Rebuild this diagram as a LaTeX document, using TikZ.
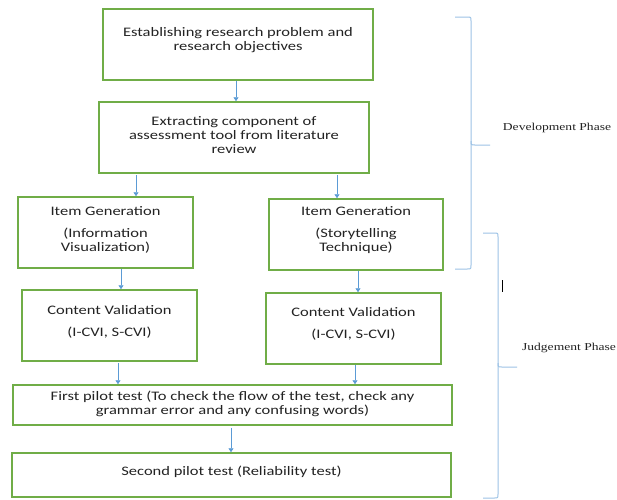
\documentclass[tikz,border=0pt]{standalone}
\usepackage{fontspec}
\usetikzlibrary{arrows.meta}
\newfontfamily\boxfont[FakeStretch=1.27]{Carlito}
\newfontfamily\labfont[FakeStretch=1.28]{Liberation Serif}
\definecolor{boxgreen}{RGB}{112,173,71}
\definecolor{arrblue}{RGB}{91,155,213}
\definecolor{bracecol}{RGB}{157,195,230}
\definecolor{txtcol}{RGB}{35,35,35}
\tikzset{
  box/.style={draw=boxgreen, line width=1.5pt, rectangle, inner sep=0pt},
  txt/.style={font=\boxfont\fontsize{13pt}{14pt}\selectfont, text=txtcol, align=center, inner sep=0pt},
  lab/.style={font=\labfont\fontsize{10.6pt}{12pt}\selectfont, text=txtcol, inner sep=0pt},
  arr/.style={draw=arrblue, line width=0.8pt, -{Triangle[width=5pt,length=4pt]}},
  brace/.style={draw=bracecol, line width=1pt}
}
\begin{document}
\begin{tikzpicture}[x=1pt,y=-1pt]
\useasboundingbox (0,0) rectangle (617,499);
\fill[white] (0,0) rectangle (617,499);
% boxes
\node[box, minimum width=270pt, minimum height=71pt] (b1) at (238,44.5) {};
\node[box, minimum width=270pt, minimum height=71pt] (b2) at (234,137.5) {};
\node[box, minimum width=175pt, minimum height=71pt] (b3) at (105.5,232.5) {};
\node[box, minimum width=174pt, minimum height=71pt] (b4) at (356,234.5) {};
\node[box, minimum width=175pt, minimum height=71pt] (b5) at (109.5,325.5) {};
\node[box, minimum width=175pt, minimum height=71pt] (b6) at (353.5,328.5) {};
\node[box, minimum width=439pt, minimum height=40pt] (b7) at (232.5,405) {};
\node[box, minimum width=439pt, minimum height=44pt] (b8) at (231.5,475) {};
% texts
\node[txt] (t1) at (238,40) {Establishing research problem and\\research objectives};
\node[txt] (t2) at (234,135) {Extracting component of\\assessment tool from literature\\review};
\node[txt] (t3) at (105.5,229.5) {Item Generation\\[8pt](Information\\Visualization)};
\node[txt] (t4) at (356,230) {Item Generation\\[8pt](Storytelling\\Technique)};
\node[txt] (t5) at (109.5,322) {Content Validation\\[8pt](I-CVI, S-CVI)};
\node[txt] (t6) at (353.5,324) {Content Validation\\[8pt](I-CVI, S-CVI)};
\node[txt] (t7) at (232.5,404) {First pilot test (To check the flow of the test, check any\\grammar error and any confusing words)};
\node[txt] (t8) at (231.5,472) {Second pilot test (Reliability test)};
% arrows
\draw[arr] ([xshift=-2pt]b1.south) -- ([xshift=-2pt]b1.south |- b2.north);
\draw[arr, shorten <=1.5pt] ([xshift=-98pt]b2.south) -- ([xshift=-98pt]b2.south |- b3.north);
\draw[arr, shorten <=1.5pt] ([xshift=103pt]b2.south) -- ([xshift=103pt]b2.south |- b4.north);
\draw[arr] ([xshift=15.5pt]b3.south) -- ([xshift=15.5pt]b3.south |- b5.north);
\draw[arr] ([xshift=2pt]b4.south) -- ([xshift=2pt]b4.south |- b6.north);
\draw[arr, shorten <=1pt] ([xshift=8.5pt]b5.south) -- ([xshift=8.5pt]b5.south |- b7.north);
\draw[arr] ([xshift=1.5pt]b6.south) -- ([xshift=1.5pt]b6.south |- b7.north);
\draw[arr, shorten <=2pt] ([xshift=-1.5pt]b7.south) -- ([xshift=-1.5pt]b7.south |- b8.north);
% braces
\draw[brace] (455,17) -- (467,17) .. controls (471,17) .. (471,21) -- (471,141) .. controls (471,145) .. (475,145) -- (490,145);
\draw[brace] (471,141) -- (471,265) .. controls (471,269) .. (467,269) -- (455,269);
\draw[brace] (483,233) -- (494,233) .. controls (498,233) .. (498,237) -- (498,363) .. controls (498,367) .. (502,367) -- (517,367);
\draw[brace] (498,363) -- (498,494) .. controls (498,498) .. (494,498) -- (483,498);
\draw[black, line width=0.8pt] (502,280) -- (502,292);
% labels
\node[lab] (l1) at (557,128) {Development Phase};
\node[lab] (l2) at (569,348) {Judgement Phase};
\end{tikzpicture}
\end{document}
